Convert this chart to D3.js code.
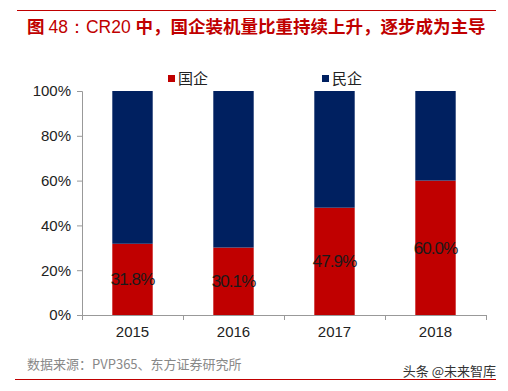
<!DOCTYPE html>
<html>
<head>
<meta charset="utf-8">
<script src="https://cdn.jsdelivr.net/npm/d3@7"></script>
<style>
  body { margin: 0; background: #fff; }
  text { font-family: "Liberation Sans", Arial, "Noto Sans CJK SC", sans-serif; }
  .cjk { font-family: "Noto Sans CJK SC", sans-serif; }
</style>
</head>
<body>
<div id="chart"></div>
<script>
const years = ["2015", "2016", "2017", "2018"];
const stateShare = [31.8, 30.1, 47.9, 60.0];   // 国企
const privateShare = stateShare.map(v => 100 - v); // 民企
const yTicks = [0, 20, 40, 60, 80, 100];
const seriesNames = ["国企", "民企"];
const seriesColors = ["#C00000", "#002060"];

const W = 508, H = 391;
const dims = { left: 82, right: 22, top: 91, bottom: 76 };

const svg = d3.select("#chart").append("svg")
  .attr("width", W).attr("height", H);

// frame lines
svg.append("line").attr("x1", 17).attr("x2", 496).attr("y1", 10.5).attr("y2", 10.5)
  .attr("stroke", "#C00000").attr("stroke-width", 1);
svg.append("line").attr("x1", 15).attr("x2", 496).attr("y1", 379.5).attr("y2", 379.5)
  .attr("stroke", "#C00000").attr("stroke-width", 1);

// title
const title = svg.append("text").attr("class", "cjk")
  .attr("x", 27).attr("y", 33)
  .attr("fill", "#C00000").attr("font-size", 17.5);
title.append("tspan").attr("font-weight", "bold").text("图 ");
title.append("tspan").attr("font-family", "Liberation Sans, Arial").text("48：CR20 ");
title.append("tspan").attr("font-weight", "bold").text("中，国企装机量比重持续上升，逐步成为主导");

const plotW = W - dims.left - dims.right;
const plotH = H - dims.top - dims.bottom;
const g = svg.append("g").attr("transform", `translate(${dims.left},${dims.top})`);

const x = d3.scaleBand().domain(years).range([0, plotW]).paddingInner(0.6).paddingOuter(0.3);
const y = d3.scaleLinear().domain([0, 100]).range([plotH, 0]);

// y axis
const yAxis = g.append("g")
  .call(d3.axisLeft(y).tickValues(yTicks).tickFormat(d => d + "%").tickSize(5).tickPadding(6));
yAxis.select(".domain").attr("stroke", "#999");
yAxis.selectAll(".tick line").attr("stroke", "#999");
yAxis.selectAll(".tick text").attr("font-size", 15).attr("fill", "#222")
  .attr("font-family", "Liberation Sans, Arial");

// x axis (category dividers)
const xg = g.append("g").attr("transform", `translate(0,${plotH})`);
xg.append("line").attr("x1", 0).attr("x2", plotW).attr("y1", 0.5).attr("y2", 0.5).attr("stroke", "#999");
const step = x.step();
xg.selectAll("line.div").data(d3.range(years.length + 1)).join("line")
  .attr("class", "div")
  .attr("x1", i => Math.round(x(years[0]) - x.paddingOuter() * step + i * step) + 0.5)
  .attr("x2", i => Math.round(x(years[0]) - x.paddingOuter() * step + i * step) + 0.5)
  .attr("y1", 0).attr("y2", 5).attr("stroke", "#999");
xg.selectAll("text.yr").data(years).join("text")
  .attr("class", "yr")
  .attr("x", d => x(d) + x.bandwidth() / 2)
  .attr("y", 22)
  .attr("text-anchor", "middle")
  .attr("font-size", 15).attr("fill", "#222")
  .text(d => d);

// stacked bars
const rows = years.map((yr, i) => ({ year: yr, s: stateShare[i], p: privateShare[i] }));
const stack = d3.stack().keys(["s", "p"])(rows);
g.selectAll("g.series").data(stack).join("g")
  .attr("class", "series")
  .attr("fill", (d, i) => seriesColors[i])
  .selectAll("rect").data(d => d).join("rect")
    .attr("x", d => x(d.data.year))
    .attr("y", d => y(d[1]))
    .attr("width", x.bandwidth())
    .attr("height", d => y(d[0]) - y(d[1]));

// value labels on state share
g.selectAll("text.val").data(rows).join("text")
  .attr("class", "val")
  .attr("x", d => x(d.year) + x.bandwidth() / 2)
  .attr("y", d => y(d.s / 2) + 6)
  .attr("text-anchor", "middle")
  .attr("font-size", 17).attr("letter-spacing", -0.9)
  .attr("fill", "#1a1a1a")
  .text(d => d.s.toFixed(1) + "%");

// legend
const legendX = [168, 322];
const lg = svg.selectAll("g.legend").data(seriesNames).join("g")
  .attr("class", "legend")
  .attr("transform", (d, i) => `translate(${legendX[i]},75)`);
lg.append("rect").attr("width", 7).attr("height", 7).attr("fill", (d, i) => seriesColors[i]);
lg.append("text").attr("class", "cjk").attr("x", 10).attr("y", 9)
  .attr("font-size", 15).attr("fill", "#222").text(d => d);

// source and watermark
svg.append("text").attr("class", "cjk").attr("x", 27).attr("y", 369)
  .attr("font-size", 13).attr("fill", "#888").text("数据来源：PVP365、东方证券研究所");
svg.append("text").attr("class", "cjk").attr("x", 496).attr("y", 376)
  .attr("text-anchor", "end")
  .attr("font-size", 13).attr("fill", "#333").text("头条 @未来智库");
</script>
</body>
</html>
